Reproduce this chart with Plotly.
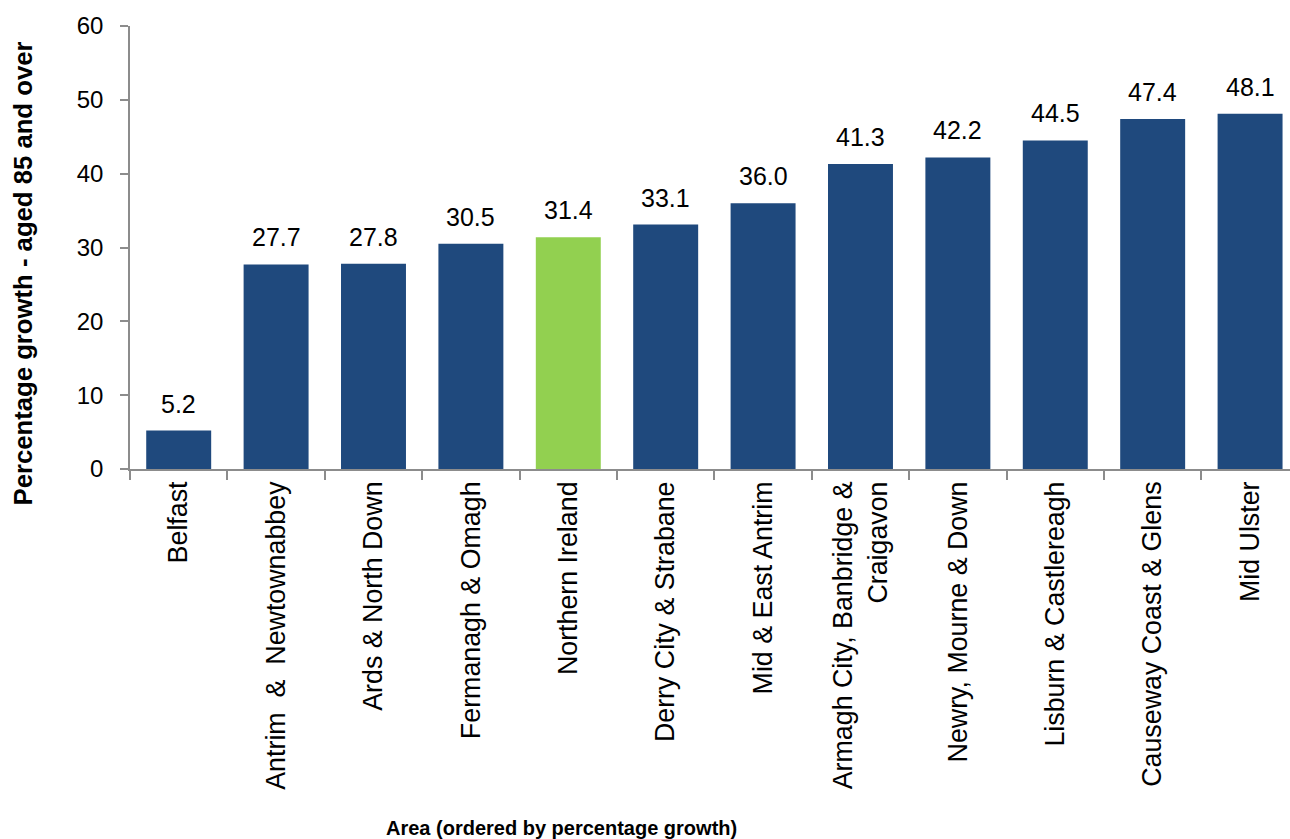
import plotly.graph_objects as go

# Growth in population aged 85 and over, by area (ordered by growth)
areas = [
    "Belfast",
    "Antrim\u00a0 &\u00a0 Newtownabbey",
    "Ards & North Down",
    "Fermanagh & Omagh",
    "Northern Ireland",
    "Derry City & Strabane",
    "Mid & East Antrim",
    "Armagh City, Banbridge &<br>Craigavon",
    "Newry, Mourne & Down",
    "Lisburn & Castlereagh",
    "Causeway Coast & Glens",
    "Mid Ulster",
]
growth = [5.2, 27.7, 27.8, 30.5, 31.4, 33.1, 36.0, 41.3, 42.2, 44.5, 47.4, 48.1]
y_ticks = [0, 10, 20, 30, 40, 50, 60]

NAVY = "#1F497D"
GREEN = "#92D050"
AXIS = "#8C8C8C"
FONT = "Arial, Liberation Sans, sans-serif"

colors = [GREEN if a == "Northern Ireland" else NAVY for a in areas]

fig = go.Figure(
    go.Bar(
        x=areas,
        y=growth,
        marker=dict(color=colors, line=dict(width=0)),
        hoverinfo="x+y",
    )
)

# value labels above each bar
for a, v in zip(areas, growth):
    fig.add_annotation(
        x=a, y=v, text=f"{v:.1f}", showarrow=False,
        yanchor="bottom", yshift=11,
        font=dict(family=FONT, size=25, color="#000000"),
    )

# axis titles
fig.add_annotation(
    xref="paper", yref="paper", x=-0.092, y=0.442,
    text="<b>Percentage growth - aged 85 and over</b>", textangle=-90,
    showarrow=False, xanchor="center", yanchor="middle",
    font=dict(family=FONT, size=25.7, color="#000000"),
)
fig.add_annotation(
    xref="paper", yref="paper", x=0.372, y=-0.81,
    text="<b>Area (ordered by percentage growth)</b>",
    showarrow=False, xanchor="center", yanchor="middle",
    font=dict(family=FONT, size=20, color="#000000"),
)

fig.update_layout(
    width=1290,
    height=839,
    margin=dict(l=130, r=0, t=26, b=370),
    paper_bgcolor="white",
    plot_bgcolor="white",
    bargap=0.333,
    showlegend=False,
    font=dict(family=FONT, color="#000000"),
)

fig.update_xaxes(
    type="category",
    range=[-0.5, 11.41],
    tickangle=-90,
    tickfont=dict(family=FONT, size=26.8, color="#000000"),
    showline=True, linecolor=AXIS, linewidth=1.5,
    ticks="outside", tickson="boundaries", ticklen=9, tickcolor=AXIS, tickwidth=1.5,
    showgrid=False, zeroline=False,
)
fig.update_yaxes(
    range=[0, 60],
    tickvals=y_ticks,
    tickfont=dict(family=FONT, size=24, color="#000000"),
    showline=True, linecolor=AXIS, linewidth=1.5,
    ticks="outside", ticklen=8, tickcolor=AXIS, tickwidth=1.5,
    ticklabelstandoff=12,
    showgrid=False, zeroline=False,
)

fig.write_html("out.html")
